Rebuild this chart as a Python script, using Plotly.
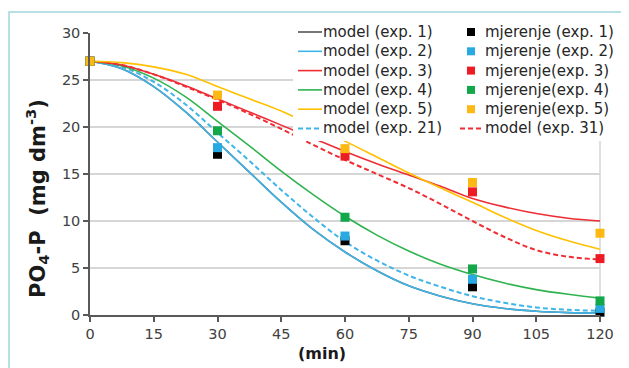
import plotly.graph_objects as go

# ---------------- data ----------------
t_model = [0, 7.5, 15, 22.5, 30, 37.5, 45, 52.5, 60, 67.5, 75, 82.5, 90, 97.5, 105, 112.5, 120]
model_exp1 = [27.0, 26.2, 24.3, 21.6, 18.4, 15.2, 12.0, 9.1, 6.7, 4.7, 3.1, 2.0, 1.2, 0.7, 0.4, 0.25, 0.2]
model_exp2 = [27.0, 26.2, 24.3, 21.6, 18.4, 15.2, 12.0, 9.1, 6.7, 4.7, 3.1, 2.0, 1.2, 0.7, 0.4, 0.25, 0.2]
model_exp21 = [27.0, 26.4, 24.8, 22.4, 19.4, 16.4, 13.3, 10.4, 7.8, 5.8, 4.2, 3.0, 2.0, 1.3, 0.8, 0.55, 0.45]
model_exp3 = [27.0, 26.6, 25.6, 24.4, 23.0, 21.6, 20.2, 18.8, 17.4, 16.1, 14.9, 13.7, 12.4, 11.5, 10.8, 10.3, 10.0]
model_exp31 = [27.0, 26.6, 25.6, 24.3, 22.9, 21.4, 19.8, 18.1, 16.5, 15.0, 13.5, 11.8, 10.0, 8.3, 6.9, 6.2, 5.9]
model_exp4 = [27.0, 26.5, 25.2, 23.2, 20.6, 18.0, 15.3, 12.8, 10.5, 8.5, 6.8, 5.4, 4.3, 3.4, 2.7, 2.2, 1.8]
model_exp5 = [27.0, 26.85, 26.4, 25.6, 24.3, 23.0, 21.7, 20.1, 18.5, 16.8, 15.1, 13.5, 12.0, 10.4, 9.0, 7.9, 7.0]

t_meas = [0, 30, 60, 90, 120]
meas_exp1 = [27.0, 17.1, 7.9, 3.0, 0.3]
meas_exp2 = [27.0, 17.8, 8.4, 3.8, 0.7]
meas_exp3 = [27.0, 22.2, 16.9, 13.1, 6.0]
meas_exp4 = [27.0, 19.6, 10.4, 4.9, 1.5]
meas_exp5 = [27.0, 23.4, 17.7, 14.1, 8.7]

x_ticks = [0, 15, 30, 45, 60, 75, 90, 105, 120]
y_ticks = [0, 5, 10, 15, 20, 25, 30]

x_title = "(min)"
y_title = "PO<sub>4</sub>-P  (mg dm<sup>-3</sup>)"

# ---------------- styles ----------------
C_BLACK_LINE = "#555555"
C_BLUE_LINE = "#3fb5e8"
C_RED_LINE = "#ee2d35"
C_GREEN_LINE = "#2fb34f"
C_YELLOW_LINE = "#ffc000"
C_BLACK_SQ = "#000000"
C_BLUE_SQ = "#29a9e1"
C_RED_SQ = "#ed1c24"
C_GREEN_SQ = "#12a84a"
C_YELLOW_SQ = "#fdb913"

# (name, x, y, color, dash, legend column, legend row)
models = [
    ("model (exp. 1)", t_model, model_exp1, C_BLACK_LINE, "solid", 0, 0),
    ("model (exp. 2)", t_model, model_exp2, C_BLUE_LINE, "solid", 0, 1),
    ("model (exp. 21)", t_model, model_exp21, C_BLUE_LINE, "5px,3px", 0, 5),
    ("model (exp. 4)", t_model, model_exp4, C_GREEN_LINE, "solid", 0, 3),
    ("model (exp. 31)", t_model, model_exp31, C_RED_LINE, "5px,3px", 1, 5),
    ("model (exp. 3)", t_model, model_exp3, C_RED_LINE, "solid", 0, 2),
    ("model (exp. 5)", t_model, model_exp5, C_YELLOW_LINE, "solid", 0, 4),
]
measures = [
    ("mjerenje (exp. 1)", t_meas, meas_exp1, C_BLACK_SQ, 1, 0),
    ("mjerenje (exp. 2)", t_meas, meas_exp2, C_BLUE_SQ, 1, 1),
    ("mjerenje(exp. 3)", t_meas, meas_exp3, C_RED_SQ, 1, 2),
    ("mjerenje(exp. 4)", t_meas, meas_exp4, C_GREEN_SQ, 1, 3),
    ("mjerenje(exp. 5)", t_meas, meas_exp5, C_YELLOW_SQ, 1, 4),
]

# page has an 8px body margin; positions below are in screenshot pixels
OFF = 8
W_FIG, H_FIG = 629 - OFF, 368 - OFF
L, T, PW, PH = 90 - OFF, 33 - OFF, 510, 282


def fx(xp):
    return (xp - OFF - L) / PW


def fy(yp):
    return (T + PH - (yp - OFF)) / PH


fig = go.Figure()
for name, x, y, color, dash, col, row in models:
    fig.add_trace(go.Scatter(
        x=x, y=y, name=name, mode="lines", showlegend=False,
        line=dict(color=color, width=2 if dash != "solid" else 1.6, dash=dash,
                  shape="spline", smoothing=1.0),
        cliponaxis=False, hoverinfo="x+y+name"))
for name, x, y, color, col, row in measures:
    fig.add_trace(go.Scatter(
        x=x, y=y, name=name, mode="markers", showlegend=False,
        marker=dict(symbol="square", size=9, color=color, line=dict(width=0)),
        cliponaxis=False, hoverinfo="x+y+name"))

shapes = []
annotations = []
# right border of plot
shapes.append(dict(type="line", xref="paper", yref="paper", x0=1, x1=1, y0=0, y1=1,
                   line=dict(color="#d4d4d4", width=1.5), layer="below"))
# outer teal frame
shapes.append(dict(type="rect", xref="paper", yref="paper",
                   x0=fx(9), x1=fx(640), y0=fy(380), y1=fy(12),
                   line=dict(color="#9fd6de", width=1.5), fillcolor="rgba(0,0,0,0)",
                   layer="above"))
# legend background
shapes.append(dict(type="rect", xref="paper", yref="paper",
                   x0=fx(293), x1=fx(618), y0=fy(141), y1=fy(24),
                   line=dict(width=0), fillcolor="white", layer="above"))

row_y = [32, 51.3, 70.6, 89.9, 109.2, 128.5]
col_line = [(298, 322), (460, 481)]
col_text = [321, 483]
col_square = 471

leg_font = dict(family="DejaVu Sans", size=15, color="#262626")
for name, x, y, color, dash, col, row in models:
    yy = fy(row_y[row])
    x0, x1 = col_line[col]
    shapes.append(dict(type="line", xref="paper", yref="paper", x0=fx(x0), x1=fx(x1),
                       y0=yy, y1=yy, layer="above",
                       line=dict(color=color, width=2 if dash != "solid" else 1.6, dash=dash)))
    annotations.append(dict(text=name, xref="paper", yref="paper", x=fx(col_text[col]), y=yy,
                            xanchor="left", yanchor="middle", showarrow=False, font=leg_font))
for name, x, y, color, col, row in measures:
    yy = fy(row_y[row])
    shapes.append(dict(type="rect", xref="paper", yref="paper",
                       xsizemode="pixel", ysizemode="pixel",
                       xanchor=fx(col_square), yanchor=yy, x0=-4, x1=4, y0=-4, y1=4,
                       fillcolor=color, line=dict(width=0), layer="above"))
    annotations.append(dict(text=name, xref="paper", yref="paper", x=fx(col_text[col]), y=yy,
                            xanchor="left", yanchor="middle", showarrow=False, font=leg_font))

title_font = dict(family="DejaVu Sans", color="#1a1a1a", weight="bold")
annotations.append(dict(text=x_title, xref="paper", yref="paper", x=fx(322), y=fy(353),
                        xanchor="center", yanchor="middle", showarrow=False,
                        font=dict(title_font, size=16)))
annotations.append(dict(text=y_title, xref="paper", yref="paper", x=fx(37), y=fy(199),
                        xanchor="center", yanchor="middle", showarrow=False, textangle=-90,
                        font=dict(title_font, size=21)))

axis_col = "#595959"
tick_font = dict(family="DejaVu Sans", size=14.5, color="#404040")
fig.update_layout(
    width=W_FIG, height=H_FIG,
    margin=dict(l=L, r=W_FIG - L - PW, t=T, b=H_FIG - T - PH, pad=0),
    paper_bgcolor="white", plot_bgcolor="white",
    showlegend=False,
    shapes=shapes, annotations=annotations,
    xaxis=dict(range=[0, 120], tickvals=x_ticks, ticktext=[str(v) for v in x_ticks],
               showgrid=False, zeroline=False, showline=True, linecolor=axis_col, linewidth=1.5,
               ticks="outside", ticklen=5, tickwidth=1.5, tickcolor=axis_col,
               tickfont=tick_font),
    yaxis=dict(range=[0, 30], tickvals=y_ticks, ticktext=[str(v) for v in y_ticks],
               showgrid=True, gridcolor="#d6d6d6", gridwidth=1.5,
               zeroline=False, showline=True, linecolor=axis_col, linewidth=1.5,
               ticks="outside", ticklen=5, tickwidth=1.5, tickcolor=axis_col,
               tickfont=tick_font),
)

fig.write_html("out.html")
